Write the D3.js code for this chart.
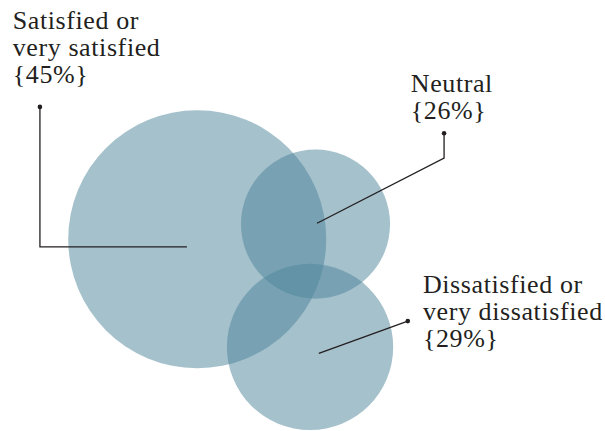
<!DOCTYPE html>
<html>
<head>
<meta charset="utf-8">
<script src="https://cdn.jsdelivr.net/npm/d3@7"></script>
<style>
  body { margin: 0; background: #fff; }
</style>
</head>
<body>
<div id="chart"></div>
<script>
// data
var categories = ["Satisfied or very satisfied", "Neutral", "Dissatisfied or dissatisfied"];
var values = [45, 26, 29];
var labelLines = [
	["Satisfied or", "very satisfied", "{45%}"],
	["Neutral", "{26%}"],
	["Dissatisfied or", "very dissatisfied", "{29%}"]
];

// layout in percent of the canvas (x: width, y: height)
var centers = [[32.6, 55.5], [52.15, 52.0], [51.25, 80.5]];
var textAt = [[2.1, 6.75], [67.9, 21.35], [69.9, 68.0]];
var leaders = [
	[[6.6, 24.8], [6.6, 57.3], [30.9, 57.3]],
	[[73.4, 30.9], [73.4, 36.7], [52.4, 51.8]],
	[[67.4, 74.5], [52.7, 82.0]]
];

var W = 605, H = 431;

var svg = d3.select("#chart")
	.append("svg")
	.attr("width", W)
	.attr("height", H);

var x = d3.scaleLinear().domain([0, 100]).range([0, W]);
var y = d3.scaleLinear().domain([0, 100]).range([0, H]);
// radius grows linearly with the share
var r = d3.scaleLinear().domain([0, 45]).range([0, 129]);

svg.selectAll("circle.blob")
	.data(values)
	.enter()
	.append("circle")
	.attr("class", "blob")
	.attr("cx", function(d, i) { return x(centers[i][0]); })
	.attr("cy", function(d, i) { return y(centers[i][1]); })
	.attr("r", function(d) { return r(d); })
	.attr("fill", "rgb(75,131,153)")
	.attr("fill-opacity", 0.5);

var line = d3.line()
	.x(function(p) { return x(p[0]); })
	.y(function(p) { return y(p[1]); });

svg.selectAll("path.leader")
	.data(leaders)
	.enter()
	.append("path")
	.attr("class", "leader")
	.attr("d", line)
	.attr("fill", "none")
	.attr("stroke", "#231f20")
	.attr("stroke-width", 1.3);

svg.selectAll("circle.dot")
	.data(leaders)
	.enter()
	.append("circle")
	.attr("class", "dot")
	.attr("cx", function(d) { return x(d[0][0]); })
	.attr("cy", function(d) { return y(d[0][1]); })
	.attr("r", 2.3)
	.attr("fill", "#231f20");

var labels = svg.selectAll("text.lbl")
	.data(labelLines)
	.enter()
	.append("text")
	.attr("class", "lbl")
	.attr("x", function(d, i) { return x(textAt[i][0]); })
	.attr("y", function(d, i) { return y(textAt[i][1]); })
	.attr("font-family", "'Liberation Serif', 'Times New Roman', serif")
	.attr("font-size", "26px")
	.attr("letter-spacing", "0.6px")
	.attr("fill", "#231f20");

labels.each(function(d, i) {
	var t = d3.select(this);
	d.forEach(function(s, k) {
		t.append("tspan")
			.attr("x", x(textAt[i][0]))
			.attr("dy", k == 0 ? 0 : 27)
			.text(s);
	});
});
</script>
</body>
</html>
